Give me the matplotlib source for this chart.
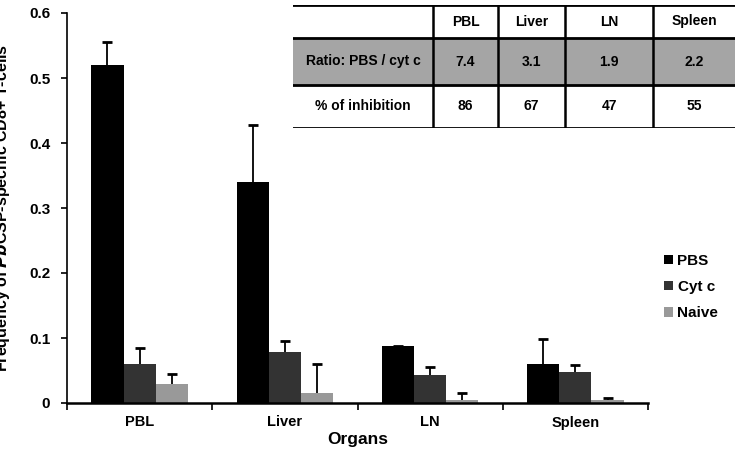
import numpy as np
import matplotlib
matplotlib.use("Agg")
import matplotlib.pyplot as plt

plt.rcParams['font.family'] = ['Liberation Sans', 'DejaVu Sans']
plt.rcParams['font.weight'] = 'bold'
plt.rcParams['axes.labelweight'] = 'bold'

# data
organs = ["PBL", "Liver", "LN", "Spleen"]
pbs = [0.52, 0.34, 0.087, 0.06]
pbs_err = [0.035, 0.088, 0.001, 0.038]
cytc = [0.06, 0.079, 0.043, 0.047]
cytc_err = [0.025, 0.017, 0.012, 0.011]
naive = [0.03, 0.015, 0.005, 0.005]
naive_err = [0.015, 0.045, 0.01, 0.003]

table_cols = ["PBL", "Liver", "LN", "Spleen"]
ratio_vals = ["7.4", "3.1", "1.9", "2.2"]
inhib_vals = ["86", "67", "47", "55"]

fig = plt.figure(figsize=(7.37, 4.53), dpi=100)
ax = fig.add_axes([67/737, 1 - 403/453, (648 - 67)/737, (403 - 13)/453])

x = np.arange(len(organs))
w = 0.222
series = [(pbs, pbs_err, "#000000", "PBS"),
          (cytc, cytc_err, "#333333", "Cyt c"),
          (naive, naive_err, "#999999", "Naive")]
for i, (vals, errs, col, lab) in enumerate(series):
    pos = x + (i - 1) * w
    vals = np.array(vals)
    errs = np.array(errs)
    ax.bar(pos, vals, w, color=col, label=lab, zorder=2)
    # upper-only error bars
    ax.vlines(pos, vals, vals + errs, color="black", lw=1.3, zorder=3)
    ax.plot(pos, vals + errs, ls="none", marker="_", ms=7, mew=2, color="black", zorder=3)

ax.set_xlim(-0.5, 3.5)
ax.set_ylim(0, 0.6)
ax.set_yticks(np.arange(0, 0.61, 0.1))
ax.set_yticklabels(["0", "0.1", "0.2", "0.3", "0.4", "0.5", "0.6"], fontsize=11)
ax.set_xticks([-0.5, 0.5, 1.5, 2.5, 3.5], minor=False)
ax.set_xticklabels([])
ax.set_xticks(x, minor=True)
ax.set_xticklabels(organs, minor=True, fontsize=10.5)
ax.tick_params(axis="x", which="major", length=5, width=1.2, direction="out")
ax.tick_params(axis="x", which="minor", length=0, pad=9)
ax.tick_params(axis="y", length=4, width=1.2, direction="out", pad=8)
for s in ["top", "right"]:
    ax.spines[s].set_visible(False)
ax.spines["left"].set_linewidth(1.2)
ax.spines["bottom"].set_linewidth(1.8)

ax.set_xlabel("Organs", fontsize=12.5, labelpad=2)
ax.set_ylabel("Frequency of $\\bf{\\it{Pb}}$CSP-specific CD8+ T-cells", fontsize=11.5, labelpad=12)

leg = fig.legend(loc="upper left", bbox_to_anchor=(650/737, 1 - 240/453), frameon=False,
                 fontsize=11, handlelength=0.6, handleheight=0.6, handletextpad=0.3,
                 labelspacing=0.8)

# table in the top right
tx0, tx1 = 293, 735
col_edges = [293, 433, 498, 565, 653, 735]
row_edges = [5, 38, 85, 128]
tab = fig.add_axes([tx0/737, 1 - row_edges[-1]/453, (tx1 - tx0)/737,
                    (row_edges[-1] - row_edges[0])/453])
tab.set_xlim(tx0, tx1)
tab.set_ylim(row_edges[-1], row_edges[0])
tab.axis("off")
tab.add_patch(plt.Rectangle((tx0, row_edges[1]), tx1 - tx0, row_edges[2] - row_edges[1],
                            color="#a5a5a5", zorder=0))
for yy in row_edges:
    tab.axhline(yy, color="black", lw=2)
for xx in col_edges[1:-1]:
    tab.axvline(xx, color="black", lw=1.8)
rows = [[""] + table_cols, ["Ratio: PBS / cyt c"] + ratio_vals, ["% of inhibition"] + inhib_vals]
for r, row in enumerate(rows):
    yc = (row_edges[r] + row_edges[r + 1]) / 2
    for c, txt in enumerate(row):
        xc = (col_edges[c] + col_edges[c + 1]) / 2
        tab.text(xc, yc, txt, ha="center", va="center", fontsize=10)

fig.savefig("out.png", dpi=100)
